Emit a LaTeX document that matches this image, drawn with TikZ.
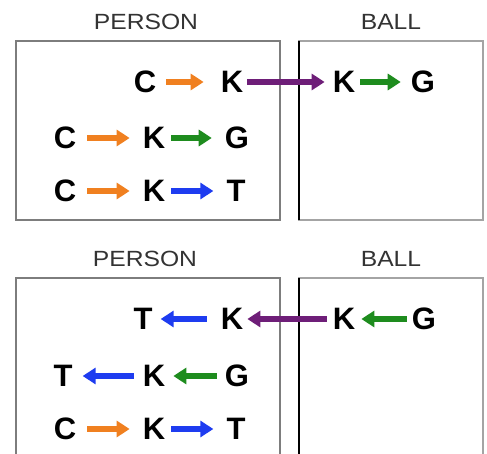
\documentclass[tikz,border=0pt]{standalone}
\usepackage{fontspec}
\setmainfont{Liberation Sans}
\usetikzlibrary{arrows.meta}
\definecolor{aorange}{RGB}{240,128,32}
\definecolor{agreen}{RGB}{30,140,30}
\definecolor{ablue}{RGB}{30,60,240}
\definecolor{apurple}{RGB}{110,30,120}
\definecolor{boxgray}{RGB}{125,125,125}
\tikzset{
  lt/.style={inner sep=0pt, font=\fontsize{31}{31}\selectfont\bfseries, text=black},
  lbl/.style={inner sep=0pt, font=\fontsize{22}{22}\selectfont, text=black!80, xscale=1.12, transform shape},
  arr/.style={line width=5.5pt, -{Triangle[length=13pt,width=16pt]}},
  oarr/.style={arr, draw=aorange},
  garr/.style={arr, draw=agreen},
  barr/.style={arr, draw=ablue},
  parr/.style={arr, draw=apurple},
  pbox/.style={draw=boxgray, line width=2.8pt},
  bbox/.style={draw=boxgray!70, line width=1.6pt},
}
\begin{document}
\begin{tikzpicture}[x=1pt,y=-1pt]
\clip (0,0) rectangle (487,454);
\fill[white] (0,0) rectangle (487,454);
% ---------- top panel ----------
\node[lbl] (tpl) at (146,22) {PERSON};
\node[lbl] (tbl) at (391,22) {BALL};
\draw[pbox] (16,41) rectangle (280,220);
\draw[bbox] (299,41) rectangle (483,220);
\draw[black, line width=1.8pt] (299,41) -- (299,220);

\node[lt] (t1c) at (145,82) {C};
\node[lt] (t1k) at (232,82) {K};
\node[lt] (t1k2) at (344,82) {K};
\node[lt] (t1g) at (423,82) {G};
\draw[oarr, shorten <=10pt, shorten >=17pt] (t1c) -- (t1k);
\draw[parr, shorten <=4pt, shorten >=8pt] (t1k) -- (t1k2);
\draw[garr, shorten <=5pt, shorten >=10pt] (t1k2) -- (t1g);

\node[lt] (t2c) at (65,138) {C};
\node[lt] (t2k) at (154,138) {K};
\node[lt] (t2g) at (237,138) {G};
\draw[oarr, shorten <=11pt, shorten >=13pt] (t2c) -- (t2k);
\draw[garr, shorten <=6pt, shorten >=13pt] (t2k) -- (t2g);

\node[lt] (t3c) at (65,191) {C};
\node[lt] (t3k) at (154,191) {K};
\node[lt] (t3t) at (236,191) {T};
\draw[oarr, shorten <=11pt, shorten >=13pt] (t3c) -- (t3k);
\draw[barr, shorten <=6pt, shorten >=13pt] (t3k) -- (t3t);

% ---------- bottom panel ----------
\node[lbl] (bpl) at (145,259) {PERSON};
\node[lbl] (bbl) at (391,259) {BALL};
\draw[pbox] (16,278) rectangle (280,480);
\draw[bbox] (299,278) rectangle (483,480);
\draw[black, line width=1.8pt] (299,278) -- (299,480);

\node[lt] (b1t) at (143,319) {T};
\node[lt] (b1k) at (232,319) {K};
\node[lt] (b1k2) at (344,319) {K};
\node[lt] (b1g) at (424,319) {G};
\draw[barr, shorten <=14pt, shorten >=8pt] (b1k) -- (b1t);
\draw[parr, shorten <=6pt, shorten >=4pt] (b1k2) -- (b1k);
\draw[garr, shorten <=5pt, shorten >=6pt] (b1g) -- (b1k2);

\node[lt] (b2t) at (63,376) {T};
\node[lt] (b2k) at (154,376) {K};
\node[lt] (b2g) at (237,376) {G};
\draw[barr, shorten <=9pt, shorten >=10pt] (b2k) -- (b2t);
\draw[garr, shorten <=8pt, shorten >=8pt] (b2g) -- (b2k);

\node[lt] (b3c) at (65,429) {C};
\node[lt] (b3k) at (154,429) {K};
\node[lt] (b3t) at (236,429) {T};
\draw[oarr, shorten <=11pt, shorten >=13pt] (b3c) -- (b3k);
\draw[barr, shorten <=6pt, shorten >=13pt] (b3k) -- (b3t);
\end{tikzpicture}
\end{document}
